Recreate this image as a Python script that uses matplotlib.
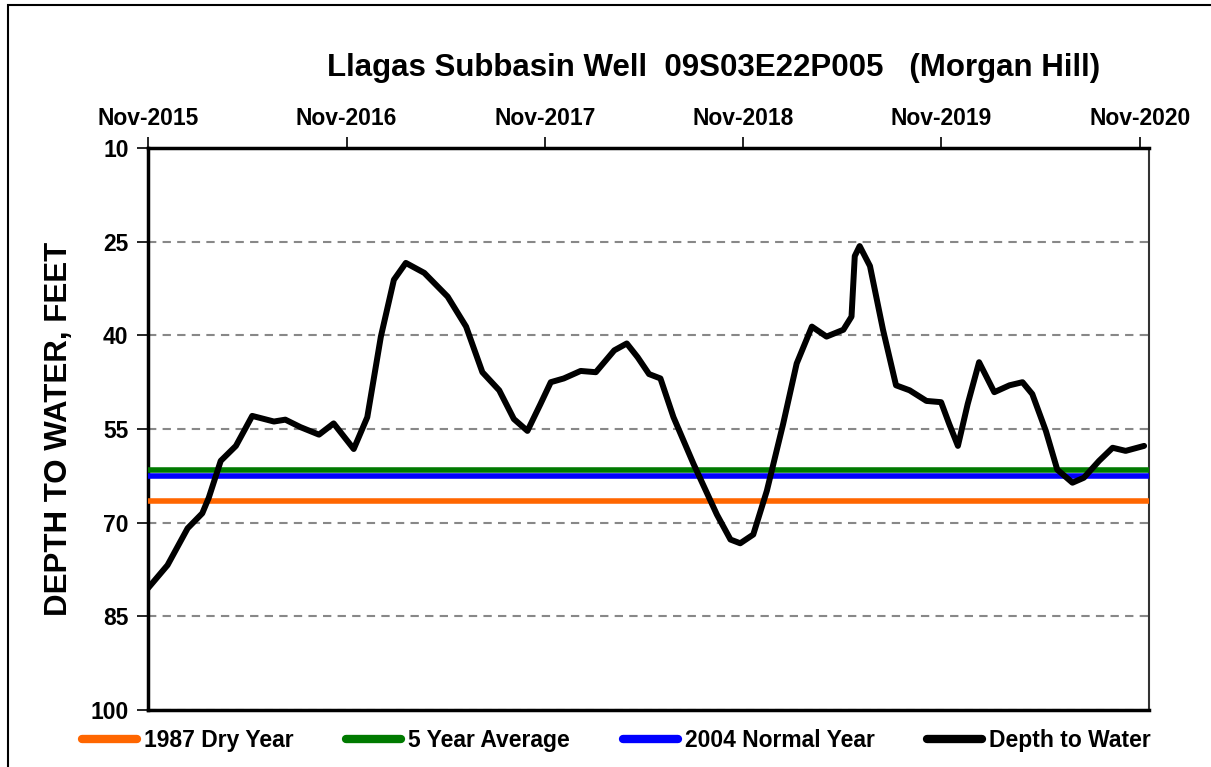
import numpy as np
import pandas as pd
import matplotlib
matplotlib.use("Agg")
import matplotlib.pyplot as plt
import matplotlib.dates as mdates
from matplotlib.patches import Rectangle

plt.rcParams['font.family'] = ['Liberation Sans', 'DejaVu Sans']
plt.rcParams['font.weight'] = 'bold'

# depth to water readings (feet below ground)
dates = ['2015-11-01', '2015-12-07', '2016-01-13', '2016-02-09', '2016-02-21', '2016-03-14',
         '2016-04-11', '2016-05-11', '2016-06-20', '2016-07-11', '2016-08-08', '2016-09-11',
         '2016-10-08', '2016-11-14', '2016-12-09', '2017-01-03', '2017-01-27', '2017-02-18',
         '2017-03-24', '2017-05-06', '2017-06-09', '2017-07-09', '2017-08-09', '2017-09-05',
         '2017-09-30', '2017-10-24', '2017-11-12', '2017-12-06', '2018-01-06', '2018-02-03',
         '2018-03-09', '2018-04-01', '2018-04-21', '2018-05-12', '2018-06-02', '2018-06-26',
         '2018-08-02', '2018-09-14', '2018-10-09', '2018-10-27', '2018-11-20', '2018-12-15',
         '2019-01-14', '2019-02-08', '2019-03-08', '2019-04-04', '2019-05-05', '2019-05-20',
         '2019-05-26', '2019-06-04', '2019-06-23', '2019-07-17', '2019-08-10', '2019-09-04',
         '2019-10-05', '2019-11-01', '2019-11-16', '2019-12-02', '2019-12-20', '2020-01-10',
         '2020-02-07', '2020-03-06', '2020-03-30', '2020-04-17', '2020-05-12', '2020-06-02',
         '2020-06-30', '2020-07-21', '2020-08-18', '2020-09-12', '2020-10-06', '2020-11-09']
depth = [80.5, 76.8, 70.9, 68.5, 66.0, 60.1,
         57.7, 52.9, 53.8, 53.5, 54.7, 55.9,
         54.1, 58.2, 53.1, 40.2, 31.1, 28.4,
         30.0, 33.8, 38.6, 45.9, 48.8, 53.4,
         55.3, 51.0, 47.5, 46.9, 45.7, 45.9,
         42.4, 41.3, 43.5, 46.2, 46.9, 53.1,
         60.6, 68.7, 72.7, 73.3, 71.9, 64.9,
         54.2, 44.5, 38.6, 40.2, 39.1, 37.0,
         27.3, 25.7, 28.9, 39.1, 48.0, 48.8,
         50.5, 50.7, 54.2, 57.7, 51.0, 44.3,
         49.1, 48.0, 47.5, 49.4, 55.3, 61.5,
         63.6, 62.8, 60.1, 58.0, 58.5, 57.7]

# reference levels
dry_1987 = 66.6
avg_5yr = 61.6
normal_2004 = 62.5

x = pd.to_datetime(dates)

fig = plt.figure(figsize=(12.11, 7.67), dpi=100)
ax = fig.add_axes([0.1222, 0.0743, 0.8266, 0.7327])

ax.axhline(dry_1987, color='#ff6600', lw=4, label='1987 Dry Year', zorder=3)
ax.axhline(avg_5yr, color='#007a00', lw=4, label='5 Year Average', zorder=3)
ax.axhline(normal_2004, color='#0000ff', lw=4, label='2004 Normal Year', zorder=3)
ax.plot(x, depth, color='black', lw=4.3, solid_joinstyle='round', solid_capstyle='round',
        label='Depth to Water', zorder=4)

ax.set_ylim(100, 10)
ax.set_yticks([10, 25, 40, 55, 70, 85, 100])
ax.set_xlim(pd.Timestamp('2015-11-01'), pd.Timestamp('2020-11-18'))
ax.xaxis.set_major_locator(mdates.MonthLocator(bymonth=11))
ax.xaxis.set_major_formatter(mdates.DateFormatter('%b-%Y'))
ax.xaxis.tick_top()
ax.tick_params(axis='x', direction='out', length=8, width=1.2, labelsize=16.5, pad=5)
ax.tick_params(axis='y', direction='out', length=8, width=1.2, labelsize=16.5, pad=6)
ax.grid(axis='y', linestyle=(0, (4, 3)), color='#888888', lw=1.5, zorder=1)

for s in ['left', 'top', 'bottom']:
    ax.spines[s].set_linewidth(2.5)
ax.spines['right'].set_linewidth(1.5)
ax.spines['right'].set_color('#333333')

ax.set_ylabel('DEPTH TO WATER, FEET', fontsize=22.5, fontweight='bold', labelpad=12)
fig.text(0.589, 0.911, 'Llagas Subbasin Well  09S03E22P005   (Morgan Hill)',
         fontsize=22.5, fontweight='bold', ha='center', va='center')

leg = fig.legend(loc='center', bbox_to_anchor=(0.509, 0.034), ncol=4, frameon=False,
                 fontsize=16.5, handlelength=2.4, handletextpad=0.3, columnspacing=2.3)
for h in leg.legend_handles:
    h.set_linewidth(6)
    h.set_solid_capstyle('round')

fig.patches.append(Rectangle((0.0066, -0.01), 1.0, 1.0035, transform=fig.transFigure,
                             fill=False, edgecolor='black', lw=1.5))

fig.savefig('out.png', dpi=100)
